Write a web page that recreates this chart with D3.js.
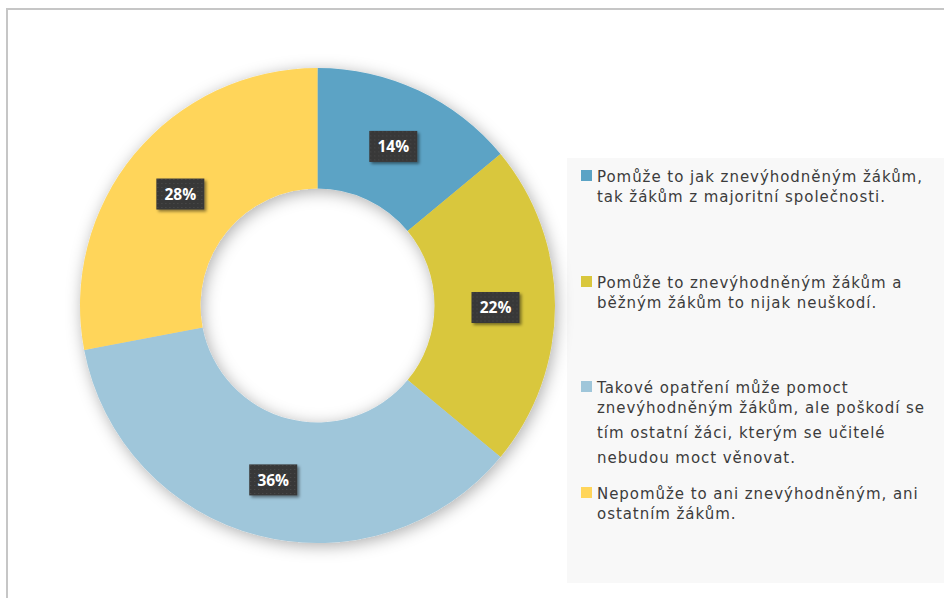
<!DOCTYPE html>
<html>
<head>
<meta charset="utf-8">
<script src="https://cdn.jsdelivr.net/npm/d3@7"></script>
<style>
  html, body { margin: 0; padding: 0; background: #fff; }
  svg { display: block; }
</style>
</head>
<body>
<svg id="chart" width="944" height="598"></svg>
<script>
// Survey answers and their shares (%)
const categories = [
  "Pomůže to jak znevýhodněným žákům, tak žákům z majoritní společnosti.",
  "Pomůže to znevýhodněným žákům a běžným žákům to nijak neuškodí.",
  "Takové opatření může pomoct znevýhodněným žákům, ale poškodí se tím ostatní žáci, kterým se učitelé nebudou moct věnovat.",
  "Nepomůže to ani znevýhodněným, ani ostatním žákům."
];
const values = [14, 22, 36, 28];
// Legend text broken into lines as displayed
const legendLines = [
  ["Pomůže to jak znevýhodněným žákům,", "tak žákům z majoritní společnosti."],
  ["Pomůže to znevýhodněným žákům a", "běžným žákům to nijak neuškodí."],
  ["Takové opatření může pomoct", "znevýhodněným žákům, ale poškodí se", "tím ostatní žáci, kterým se učitelé", "nebudou moct věnovat."],
  ["Nepomůže to ani znevýhodněným, ani", "ostatním žákům."]
];
const colors = ["#5ba3c5", "#d9c73d", "#9fc6da", "#ffd55a"];

const svg = d3.select("#chart");
const defs = svg.append("defs");

// soft shadow under the ring
const sh = defs.append("filter").attr("id", "ringShadow")
  .attr("x", "-20%").attr("y", "-20%").attr("width", "140%").attr("height", "140%");
sh.append("feDropShadow").attr("dx", 2).attr("dy", 3).attr("stdDeviation", 8)
  .attr("flood-color", "#000").attr("flood-opacity", 0.32);

// shadow under the value boxes
const lsh = defs.append("filter").attr("id", "boxShadow")
  .attr("x", "-30%").attr("y", "-30%").attr("width", "160%").attr("height", "160%");
lsh.append("feDropShadow").attr("dx", 2).attr("dy", 2).attr("stdDeviation", 1.5)
  .attr("flood-color", "#000").attr("flood-opacity", 0.45);

// dotted dark texture for value boxes
const pat = defs.append("pattern").attr("id", "dots")
  .attr("width", 4).attr("height", 4).attr("patternUnits", "userSpaceOnUse");
pat.append("rect").attr("width", 4).attr("height", 4).attr("fill", "#383838");
pat.append("rect").attr("x", 1).attr("y", 1).attr("width", 1).attr("height", 1).attr("fill", "#4c4c4c");

// chart frame
svg.append("path")
  .attr("d", "M7,598 V9 H944")
  .attr("fill", "none").attr("stroke", "#c6c6c6").attr("stroke-width", 2);

// legend panel
svg.append("rect")
  .attr("x", 567).attr("y", 158).attr("width", 377).attr("height", 425)
  .attr("fill", "#f8f8f8");

// donut
const cx = 317.5, cy = 305.5, outerR = 237.5, innerR = 117;
const pie = d3.pie().sort(null).value(d => d)(values);
const arc = d3.arc().innerRadius(innerR).outerRadius(outerR);
const ring = svg.append("g").attr("transform", `translate(${cx},${cy})`);

ring.append("g").attr("filter", "url(#ringShadow)")
  .selectAll("path").data(pie).join("path")
  .attr("d", arc)
  .attr("fill", (d, i) => colors[i]);

// value labels
const labelArc = d3.arc().innerRadius(178).outerRadius(178);
const lab = ring.selectAll("g.lab").data(pie).join("g")
  .attr("class", "lab")
  .attr("transform", d => {
    const [x, y] = labelArc.centroid(d);
    return `translate(${x},${y + 2})`;
  });
lab.append("rect")
  .attr("x", -24).attr("y", -15.5).attr("width", 48).attr("height", 31)
  .attr("fill", "url(#dots)").attr("filter", "url(#boxShadow)");
lab.append("text")
  .attr("text-anchor", "middle").attr("dy", "0.36em")
  .attr("fill", "#fff")
  .style("font-family", "'Open Sans', 'DejaVu Sans', sans-serif")
  .style("font-weight", "700").style("font-size", "15.5px")
  .text(d => d.value + "%");

// legend entries
const entryTop = [177, 283, 388, 494];
const lineH = 25;
const leg = svg.append("g");
legendLines.forEach((lines, i) => {
  const g = leg.append("g").attr("transform", `translate(581,${entryTop[i]})`);
  g.append("rect").attr("x", 0).attr("y", -7).attr("width", 11).attr("height", 11)
    .attr("fill", colors[i]);
  const t = g.append("text")
    .attr("x", 16).attr("y", 0).attr("dy", "0.36em")
    .attr("fill", "#3c3c3c")
    .style("font-family", "'DejaVu Sans', sans-serif")
    .style("font-size", "15px")
    .style("letter-spacing", "0.95px");
  lines.forEach((ln, j) => {
    t.append("tspan").attr("x", 16).attr("y", j * lineH).text(ln);
  });
});
</script>
</body>
</html>
